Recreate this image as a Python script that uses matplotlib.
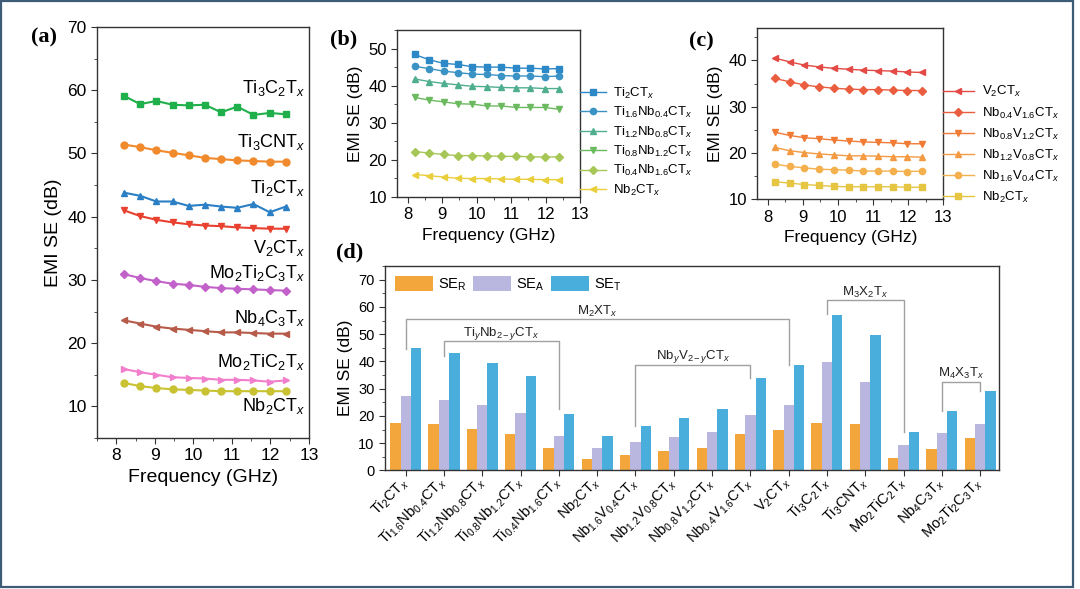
import numpy as np
import matplotlib
matplotlib.use("Agg")
import matplotlib.pyplot as plt
from matplotlib.patches import Rectangle
from matplotlib.ticker import MultipleLocator
from matplotlib.transforms import ScaledTranslation

plt.rcParams['font.family'] = ['Liberation Sans', 'DejaVu Sans']
plt.rcParams['mathtext.fontset'] = 'custom'
plt.rcParams['mathtext.rm'] = 'Liberation Sans'
plt.rcParams['mathtext.it'] = 'Liberation Sans:italic'
plt.rcParams['mathtext.bf'] = 'Liberation Sans:bold'

# frequency points (GHz)
freq = [8.2, 8.62, 9.04, 9.46, 9.88, 10.3, 10.72, 11.14, 11.56, 11.98, 12.4]

# ---- panel (a)
a_names = ['Ti$_3$C$_2$T$_x$', 'Ti$_3$CNT$_x$', 'Ti$_2$CT$_x$', 'V$_2$CT$_x$',
           'Mo$_2$Ti$_2$C$_3$T$_x$', 'Nb$_4$C$_3$T$_x$', 'Mo$_2$TiC$_2$T$_x$', 'Nb$_2$CT$_x$']
a_ti3c2 = [59.1, 57.8, 58.3, 57.7, 57.6, 57.7, 56.5, 57.4, 56.1, 56.4, 56.2]
a_ti3cn = [51.4, 51.0, 50.5, 50.1, 49.7, 49.3, 49.1, 48.9, 48.8, 48.7, 48.7]
a_ti2c = [43.8, 43.3, 42.4, 42.4, 41.7, 41.9, 41.6, 41.4, 42.0, 40.7, 41.6]
a_v2c = [41.0, 40.1, 39.5, 39.1, 38.8, 38.6, 38.5, 38.3, 38.2, 38.1, 38.1]
a_mo2ti2c3 = [30.9, 30.3, 29.8, 29.4, 29.2, 28.9, 28.7, 28.6, 28.5, 28.4, 28.3]
a_nb4c3 = [23.6, 23.1, 22.6, 22.3, 22.1, 21.9, 21.7, 21.7, 21.6, 21.5, 21.5]
a_mo2tic2 = [15.9, 15.4, 15.0, 14.6, 14.5, 14.4, 14.2, 14.2, 14.1, 13.9, 14.1]
a_nb2c = [13.7, 13.2, 12.9, 12.7, 12.6, 12.5, 12.4, 12.4, 12.4, 12.4, 12.4]
a_label_y = [60.3, 51.8, 44.5, 35.0, 31.1, 24.0, 17.0, 10.0]
a_colors = ['#1fb04c', '#f08a2c', '#2b7fc4', '#e8412f', '#c261c9', '#b65a49', '#f27fcc', '#c9c233']
a_markers = ['s', 'o', '^', 'v', 'D', '<', '>', 'o']

# ---- panel (b)
b_names = ['Ti$_2$CT$_x$', 'Ti$_{1.6}$Nb$_{0.4}$CT$_x$', 'Ti$_{1.2}$Nb$_{0.8}$CT$_x$',
           'Ti$_{0.8}$Nb$_{1.2}$CT$_x$', 'Ti$_{0.4}$Nb$_{1.6}$CT$_x$', 'Nb$_2$CT$_x$']
b_ti2 = [48.4, 47.0, 46.0, 45.7, 45.1, 45.0, 45.0, 44.7, 44.7, 44.5, 44.6]
b_ti16 = [45.2, 44.6, 43.9, 43.5, 43.1, 43.0, 42.7, 42.6, 42.6, 42.4, 42.6]
b_ti12 = [41.8, 41.1, 40.6, 40.2, 39.8, 39.7, 39.5, 39.4, 39.4, 39.2, 39.2]
b_ti08 = [36.8, 36.1, 35.6, 35.1, 35.0, 34.5, 34.5, 34.1, 34.1, 34.1, 33.6]
b_ti04 = [22.2, 21.8, 21.4, 21.1, 21.1, 21.0, 20.9, 20.9, 20.8, 20.7, 20.8]
b_nb2 = [16.0, 15.7, 15.3, 15.0, 14.9, 14.9, 14.8, 14.7, 14.7, 14.6, 14.6]
b_colors = ['#2c88c6', '#3a93c4', '#4fae8f', '#6cba60', '#a6c756', '#e9cf3c']
b_markers = ['s', 'o', '^', 'v', 'D', '<']

# ---- panel (c)
c_names = ['V$_2$CT$_x$', 'Nb$_{0.4}$V$_{1.6}$CT$_x$', 'Nb$_{0.8}$V$_{1.2}$CT$_x$',
           'Nb$_{1.2}$V$_{0.8}$CT$_x$', 'Nb$_{1.6}$V$_{0.4}$CT$_x$', 'Nb$_2$CT$_x$']
c_v2 = [40.5, 39.7, 39.0, 38.6, 38.3, 38.1, 37.9, 37.8, 37.7, 37.5, 37.4]
c_nb04 = [36.1, 35.4, 34.7, 34.3, 34.0, 33.8, 33.7, 33.7, 33.6, 33.5, 33.5]
c_nb08 = [24.5, 23.8, 23.3, 23.1, 22.8, 22.6, 22.4, 22.3, 22.2, 22.0, 22.0]
c_nb12 = [21.2, 20.5, 20.1, 19.8, 19.6, 19.4, 19.4, 19.3, 19.2, 19.2, 19.1]
c_nb16 = [17.6, 17.1, 16.8, 16.5, 16.4, 16.3, 16.1, 16.1, 16.1, 16.0, 16.1]
c_nb2 = [13.8, 13.5, 13.2, 13.0, 12.8, 12.7, 12.7, 12.7, 12.7, 12.6, 12.6]
c_colors = ['#e34a45', '#ea5d3f', '#f07b35', '#f39a42', '#f3b04c', '#e5c542']
c_markers = ['<', 'D', 'v', '^', 'o', 's']

# ---- panel (d)
d_cats = ['Ti$_2$CT$_x$', 'Ti$_{1.6}$Nb$_{0.4}$CT$_x$', 'Ti$_{1.2}$Nb$_{0.8}$CT$_x$',
          'Ti$_{0.8}$Nb$_{1.2}$CT$_x$', 'Ti$_{0.4}$Nb$_{1.6}$CT$_x$', 'Nb$_2$CT$_x$',
          'Nb$_{1.6}$V$_{0.4}$CT$_x$', 'Nb$_{1.2}$V$_{0.8}$CT$_x$', 'Nb$_{0.8}$V$_{1.2}$CT$_x$',
          'Nb$_{0.4}$V$_{1.6}$CT$_x$', 'V$_2$CT$_x$', 'Ti$_3$C$_2$T$_x$', 'Ti$_3$CNT$_x$',
          'Mo$_2$TiC$_2$T$_x$', 'Nb$_4$C$_3$T$_x$', 'Mo$_2$Ti$_2$C$_3$T$_x$']
se_r = [17.5, 17.0, 15.3, 13.3, 8.1, 4.2, 5.6, 7.1, 8.3, 13.3, 14.8, 17.3, 17.0, 4.6, 7.8, 11.8]
se_a = [27.5, 25.8, 24.1, 21.2, 12.8, 8.3, 10.4, 12.2, 14.0, 20.5, 23.9, 39.7, 32.4, 9.5, 13.9, 17.0]
se_t = [45.1, 43.0, 39.6, 34.6, 20.9, 12.6, 16.2, 19.3, 22.5, 33.8, 38.8, 57.1, 49.6, 14.3, 22.0, 29.1]
d_colors = ['#f3a63c', '#b9b7e0', '#49aedb']
d_labels = ['SE$_\\mathrm{R}$', 'SE$_\\mathrm{A}$', 'SE$_\\mathrm{T}$']
# group brackets: label, left cat, right cat, line y, left drop, right drop, label y
brackets = [
    ('M$_2$XT$_x$', 0, 10, 55.7, 44.7, 38.6, 58.3),
    ('Ti$_y$Nb$_{2-y}$CT$_x$', 1, 4, 47.5, 42.1, 22.5, 50.4),
    ('Nb$_y$V$_{2-y}$CT$_x$', 6, 9, 38.8, 16.5, 34.1, 41.8),
    ('M$_3$X$_2$T$_x$', 11, 13, 62.5, 57.3, 14.3, 65.2),
    ('M$_4$X$_3$T$_x$', 14, 15, 32.6, 21.9, 29.0, 35.6),
]

fig = plt.figure(figsize=(10.8, 5.89), dpi=100)
fig.add_artist(Rectangle((0.001, 0.0034), 0.9926, 0.995, transform=fig.transFigure,
                         fill=False, ec='#3e5b78', lw=1.6))


def style(ax, fs):
    for s in ax.spines.values():
        s.set_linewidth(1.0)
        s.set_color('#333333')
    ax.tick_params(which='both', direction='out', labelsize=fs, color='#333333')
    ax.tick_params(which='major', length=4)
    ax.tick_params(which='minor', length=2.5)


# (a)
ax = fig.add_axes([0.0898, 0.2564, 0.1963, 0.6978])
series_a = [a_ti3c2, a_ti3cn, a_ti2c, a_v2c, a_mo2ti2c3, a_nb4c3, a_mo2tic2, a_nb2c]
for vals, name, c, m, ly in zip(series_a, a_names, a_colors, a_markers, a_label_y):
    ax.plot(freq, vals, color=c, marker=m, ms=5 if m != 'D' else 4.5, lw=1.5)
    ax.text(12.9, ly, name, ha='right', va='center', fontsize=13)
ax.set_xlim(7.5, 13)
ax.set_ylim(5, 70)
ax.xaxis.set_major_locator(MultipleLocator(1))
ax.xaxis.set_minor_locator(MultipleLocator(0.5))
ax.yaxis.set_major_locator(MultipleLocator(10))
ax.yaxis.set_minor_locator(MultipleLocator(5))
ax.set_yticks([10, 20, 30, 40, 50, 60, 70])
style(ax, 12.5)
ax.set_xlabel('Frequency (GHz)', fontsize=14)
ax.set_ylabel('EMI SE (dB)', fontsize=14)

# (b)
ax = fig.add_axes([0.3679, 0.6660, 0.1692, 0.2830])
series_b = [b_ti2, b_ti16, b_ti12, b_ti08, b_ti04, b_nb2]
for vals, name, c, m in zip(series_b, b_names, b_colors, b_markers):
    ax.plot(freq, vals, color=c, marker=m, ms=4.5 if m != 'D' else 4, lw=1.0, label=name)
ax.set_xlim(7.7, 13)
ax.set_ylim(10, 55)
ax.xaxis.set_major_locator(MultipleLocator(1))
ax.xaxis.set_minor_locator(MultipleLocator(0.5))
ax.yaxis.set_major_locator(MultipleLocator(10))
ax.yaxis.set_minor_locator(MultipleLocator(5))
style(ax, 12)
ax.set_xlabel('Frequency (GHz)', fontsize=12.5)
ax.set_ylabel('EMI SE (dB)', fontsize=12.5)
ax.legend(loc='center left', bbox_to_anchor=(1.0, 0.33), frameon=False, fontsize=9.5,
          borderaxespad=0, borderpad=0, handlelength=2.0, handletextpad=0.5,
          labelspacing=0.33)

# (c)
ax = fig.add_axes([0.7012, 0.6616, 0.1722, 0.2908])
series_c = [c_v2, c_nb04, c_nb08, c_nb12, c_nb16, c_nb2]
for vals, name, c, m in zip(series_c, c_names, c_colors, c_markers):
    ax.plot(freq, vals, color=c, marker=m, ms=4.5 if m != 'D' else 4, lw=1.0, label=name)
ax.set_xlim(7.7, 13)
ax.set_ylim(10, 47)
ax.xaxis.set_major_locator(MultipleLocator(1))
ax.xaxis.set_minor_locator(MultipleLocator(0.5))
ax.yaxis.set_major_locator(MultipleLocator(10))
ax.yaxis.set_minor_locator(MultipleLocator(5))
style(ax, 12)
ax.set_xlabel('Frequency (GHz)', fontsize=12.5)
ax.set_ylabel('EMI SE (dB)', fontsize=12.5)
ax.legend(loc='center left', bbox_to_anchor=(1.0, 0.32), frameon=False, fontsize=9.5,
          borderaxespad=0, borderpad=0, handlelength=2.3, handletextpad=0.6,
          labelspacing=0.45)

# (d)
ax = fig.add_axes([0.3565, 0.2012, 0.5688, 0.3472])
x = np.arange(len(d_cats))
w = 0.27
for k, (vals, c, lab) in enumerate(zip([se_r, se_a, se_t], d_colors, d_labels)):
    ax.bar(x + (k - 1) * w, vals, width=w, color=c, label=lab)
for lab, xl, xr, yl, dl, dr, ty in brackets:
    ax.plot([xl, xl, xr, xr], [dl, yl, yl, dr], color='#a0a0a0', lw=1.0)
    ax.text((xl + xr) / 2, ty, lab, ha='center', va='center', fontsize=9.5, color='#222222')
ax.set_xlim(-0.54, 15.5)
ax.set_ylim(0, 75)
ax.set_xticks(x)
ax.set_xticklabels(d_cats, rotation=45, ha='right', va='center', rotation_mode='anchor',
                   fontsize=10)
shift = ScaledTranslation(7 / 72, 0, fig.dpi_scale_trans)
for t in ax.get_xticklabels():
    t.set_transform(t.get_transform() + shift)
ax.yaxis.set_major_locator(MultipleLocator(10))
ax.yaxis.set_minor_locator(MultipleLocator(5))
style(ax, 10.5)
ax.tick_params(axis='x', pad=3)
ax.set_ylabel('EMI SE (dB)', fontsize=12.5)
ax.legend(loc='upper left', ncol=3, frameon=False, fontsize=10.5, handlelength=2.6,
          handleheight=1.2, handletextpad=0.3, columnspacing=0.5,
          bbox_to_anchor=(0.0, 1.0), borderaxespad=0.3)

# panel letters
for lx, ly, t in [(0.041, 0.937, '(a)'), (0.318, 0.933, '(b)'), (0.649, 0.930, '(c)'),
                  (0.324, 0.572, '(d)')]:
    fig.text(lx, ly, t, ha='center', va='center', fontsize=16, fontweight='bold',
             family='Liberation Serif')

fig.savefig('out.png', dpi=100)
